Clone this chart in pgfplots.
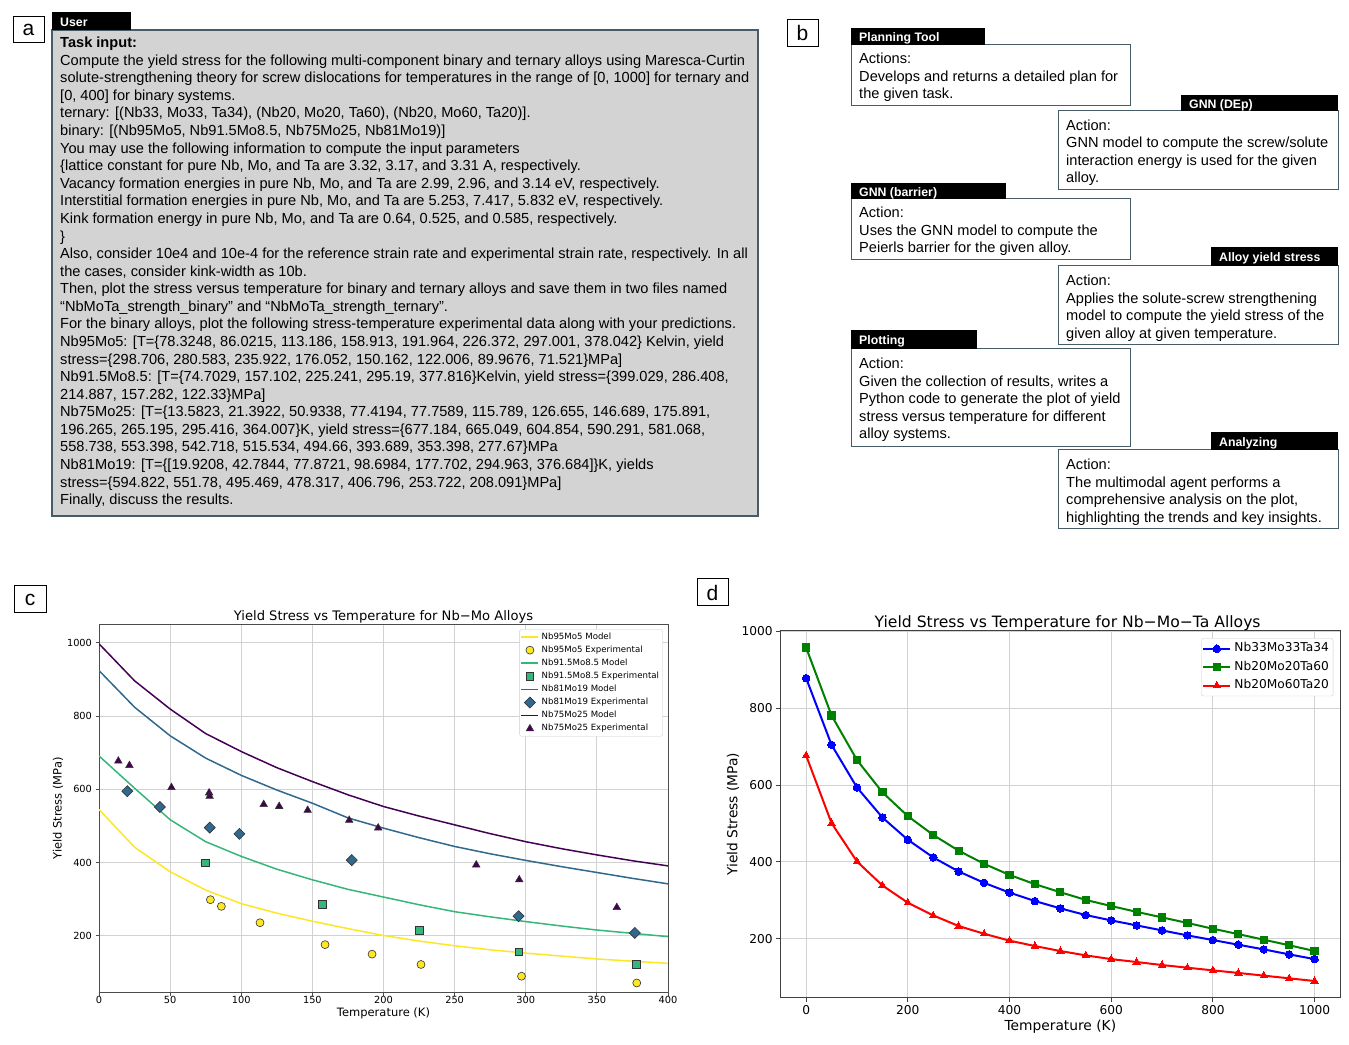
\documentclass[border=0pt]{standalone}
\usepackage{fontspec}
\setmainfont{Liberation Sans}
\newfontfamily\dejavu{DejaVu Sans}
\usepackage{pgfplots}
\pgfplotsset{compat=1.18}
\definecolor{vy}{HTML}{FDE725}
\definecolor{vg}{HTML}{35B779}
\definecolor{vb}{HTML}{31688E}
\definecolor{vp}{HTML}{440154}
\definecolor{boxedge}{RGB}{72,92,104}
\definecolor{boxfill}{RGB}{211,211,211}
\definecolor{mgreen}{HTML}{008000}
\newcommand\tx[3]{\node[anchor=mid west,inner sep=0pt,yshift=-3pt,font=\fontsize{14.6}{17}\selectfont] at (#1,#2) {#3};}
\newcommand\tabbox[5]{\fill[black] (#1,#2) rectangle (#3,#4);
\node[anchor=mid west,inner sep=0pt,yshift=-2.5pt,text=white,font=\bfseries\fontsize{12.3}{14}\selectfont] at ({#1+8},{(#2+#4)/2}) {#5};}
\newcommand\plabel[5]{\draw[line width=1pt,fill=white] (#1,#2) rectangle (#3,#4);
\node[inner sep=0pt,font=\fontsize{21}{24}\selectfont] at ({(#1+#3)/2},{(#2+#4)/2}) {#5};}
\begin{document}
\begin{tikzpicture}[x=1pt,y=1pt]
\path[use as bounding box] (0,0) rectangle (1349,1044);
\begin{scope}[yshift=1044pt,y=-1pt]
% ---------- panel a
\plabel{13}{17}{44}{43}{a}
\draw[boxedge,fill=boxfill,line width=1.2pt] (52,30) rectangle (758,516);
\tabbox{52}{12}{131}{30}{User}
\tx{60}{42}{\bfseries Task input:}
\tx{60}{59.6}{Compute the yield stress for the following multi-component binary and ternary alloys using Maresca-Curtin}
\tx{60}{77.2}{solute-strengthening theory for screw dislocations for temperatures in the range of [0, 1000] for ternary and}
\tx{60}{94.7}{[0, 400] for binary systems.}
\tx{60}{112.3}{ternary: [(Nb33, Mo33, Ta34), (Nb20, Mo20, Ta60), (Nb20, Mo60, Ta20)].}
\tx{60}{129.9}{binary: [(Nb95Mo5, Nb91.5Mo8.5, Nb75Mo25, Nb81Mo19)]}
\tx{60}{147.5}{You may use the following information to compute the input parameters}
\tx{60}{165.1}{\{lattice constant for pure Nb, Mo, and Ta are 3.32, 3.17, and 3.31 A, respectively.}
\tx{60}{182.6}{Vacancy formation energies in pure Nb, Mo, and Ta are 2.99, 2.96, and 3.14 eV, respectively.}
\tx{60}{200.2}{Interstitial formation energies in pure Nb, Mo, and Ta are 5.253, 7.417, 5.832 eV, respectively.}
\tx{60}{217.8}{Kink formation energy in pure Nb, Mo, and Ta are 0.64, 0.525, and 0.585, respectively.}
\tx{60}{235.4}{\}}
\tx{60}{253.0}{Also, consider 10e4 and 10e-4 for the reference strain rate and experimental strain rate, respectively. In all}
\tx{60}{270.5}{the cases, consider kink-width as 10b.}
\tx{60}{288.1}{Then, plot the stress versus temperature for binary and ternary alloys and save them in two files named}
\tx{60}{305.7}{“NbMoTa\_strength\_binary” and “NbMoTa\_strength\_ternary”.}
\tx{60}{323.3}{For the binary alloys, plot the following stress-temperature experimental data along with your predictions.}
\tx{60}{340.9}{Nb95Mo5: [T=\{78.3248, 86.0215, 113.186, 158.913, 191.964, 226.372, 297.001, 378.042\} Kelvin, yield}
\tx{60}{358.4}{stress=\{298.706, 280.583, 235.922, 176.052, 150.162, 122.006, 89.9676, 71.521\}MPa]}
\tx{60}{376.0}{Nb91.5Mo8.5: [T=\{74.7029, 157.102, 225.241, 295.19, 377.816\}Kelvin, yield stress=\{399.029, 286.408,}
\tx{60}{393.6}{214.887, 157.282, 122.33\}MPa]}
\tx{60}{411.2}{Nb75Mo25: [T=\{13.5823, 21.3922, 50.9338, 77.4194, 77.7589, 115.789, 126.655, 146.689, 175.891,}
\tx{60}{428.8}{196.265, 265.195, 295.416, 364.007\}K, yield stress=\{677.184, 665.049, 604.854, 590.291, 581.068,}
\tx{60}{446.3}{558.738, 553.398, 542.718, 515.534, 494.66, 393.689, 353.398, 277.67\}MPa}
\tx{60}{463.9}{Nb81Mo19: [T=\{[19.9208, 42.7844, 77.8721, 98.6984, 177.702, 294.963, 376.684]\}K, yields}
\tx{60}{481.5}{stress=\{594.822, 551.78, 495.469, 478.317, 406.796, 253.722, 208.091\}MPa]}
\tx{60}{499.1}{Finally, discuss the results.}
% ---------- panel b
\plabel{787}{20}{818}{47}{b}
\draw[boxedge,fill=white,line width=1pt] (851,45) rectangle (1130,106);
\tabbox{851}{28}{985}{45}{Planning Tool}
\tx{859}{58}{Actions:}
\tx{859}{75.5}{Develops and returns a detailed plan for}
\tx{859}{93}{the given task.}
\draw[boxedge,fill=white,line width=1pt] (1058,111) rectangle (1338,190);
\tabbox{1181}{95}{1338}{111}{GNN (DEp)}
\tx{1066}{124.5}{Action:}
\tx{1066}{142}{GNN model to compute the screw/solute}
\tx{1066}{159.5}{interaction energy is used for the given}
\tx{1066}{177}{alloy.}
\draw[boxedge,fill=white,line width=1pt] (851,199) rectangle (1130,260);
\tabbox{851}{183}{1006}{199}{GNN (barrier)}
\tx{859}{212}{Action:}
\tx{859}{229.5}{Uses the GNN model to compute the}
\tx{859}{247}{Peierls barrier for the given alloy.}
\draw[boxedge,fill=white,line width=1pt] (1058,266) rectangle (1338,345);
\tabbox{1211}{247}{1338}{266}{Alloy yield stress}
\tx{1066}{280}{Action:}
\tx{1066}{297.5}{Applies the solute-screw strengthening}
\tx{1066}{315}{model to compute the yield stress of the}
\tx{1066}{332.5}{given alloy at given temperature.}
\draw[boxedge,fill=white,line width=1pt] (851,349) rectangle (1130,447);
\tabbox{851}{330}{977}{349}{Plotting}
\tx{859}{363}{Action:}
\tx{859}{380.5}{Given the collection of results, writes a}
\tx{859}{398}{Python code to generate the plot of yield}
\tx{859}{415.5}{stress versus temperature for different}
\tx{859}{433}{alloy systems.}
\draw[boxedge,fill=white,line width=1pt] (1058,450) rectangle (1338,529);
\tabbox{1211}{432}{1338}{450}{Analyzing}
\tx{1066}{464}{Action:}
\tx{1066}{481.5}{The multimodal agent performs a}
\tx{1066}{499}{comprehensive analysis on the plot,}
\tx{1066}{516.5}{highlighting the trends and key insights.}
% ---------- labels c d
\plabel{14}{586}{46}{613}{c}
\plabel{697}{579}{728}{606}{d}
\end{scope}
% ---------- panel c
\begin{axis}[
  at={(99pt,420pt)}, anchor=north west, scale only axis,
  width=569pt, height=368.7pt,
  xmin=0, xmax=400, ymin=45, ymax=1051,
  xtick={0,50,...,400}, ytick={200,400,600,800,1000},
  grid=major, major grid style={gray!35,line width=0.8pt},
  axis line style={black!70,line width=0.8pt},
  tick style={black!70,line width=0.8pt},
  tick align=outside, tick pos=left, major tick length=3.5pt,
  ticklabel style={font=\dejavu\fontsize{9.8}{11}\selectfont},
  xticklabel style={yshift=3.5pt},
  /pgf/number format/assume math mode=true,
  /pgf/number format/1000 sep={},
  every axis title shift=0pt,
  title={Yield Stress vs Temperature for Nb−Mo Alloys},
  title style={font=\dejavu\fontsize{13.1}{15}\selectfont, at={(axis description cs:0.5,1.019)}, anchor=center, inner sep=0pt},
  xlabel={Temperature (K)},
  xlabel style={font=\dejavu\fontsize{11.5}{13}\selectfont, at={(axis description cs:0.5,-0.057)}, anchor=center, inner sep=0pt},
  ylabel={Yield Stress (MPa)},
  ylabel style={font=\dejavu\fontsize{11.5}{13}\selectfont, at={(axis description cs:-0.072,0.5)}, anchor=center, inner sep=0pt},
  legend cell align=left,
  legend style={at={(axis description cs:1,1)}, anchor=north east, xshift=-5.3pt, yshift=-5.3pt,
    draw=gray!40, rounded corners=2pt, fill=white, inner sep=1pt,
    font=\dejavu\fontsize{8.6}{10}\selectfont,
    nodes={inner sep=2.4pt, text height=6.4pt, text depth=1.9pt}},
]
\addplot[vy, line width=1.5pt] coordinates {(0,545)(25,442)(50,375)(75,325)(100,288)(125,262)(150,240)(175,220)(200,201)(225,186)(250,173)(275,162)(300,153)(325,145)(350,137)(375,131)(400,125)};
\addlegendentry{Nb95Mo5 Model}
\addplot[only marks, mark=*, mark size=4pt, mark options={fill=vy, draw=black!80, line width=0.6pt}] coordinates {(78.3248,298.706)(86.0215,280.583)(113.186,235.922)(158.913,176.052)(191.964,150.162)(226.372,122.006)(297.001,89.9676)(378.042,71.521)};
\addlegendentry{Nb95Mo5 Experimental}
\addplot[vg, line width=1.5pt] coordinates {(0,691)(25,603)(50,517)(75,457)(100,417)(125,382)(150,353)(175,327)(200,306)(225,285)(250,266)(275,252)(300,239)(325,227)(350,216)(375,207)(400,198)};
\addlegendentry{Nb91.5Mo8.5 Model}
\addplot[only marks, mark=square*, mark size=3.7pt, mark options={fill=vg, draw=black!80, line width=0.6pt}] coordinates {(74.7029,399.029)(157.102,286.408)(225.241,214.887)(295.19,157.282)(377.816,122.33)};
\addlegendentry{Nb91.5Mo8.5 Experimental}
\addplot[vb, line width=1.5pt] coordinates {(0,924)(25,824)(50,746)(75,685)(100,638)(125,598)(150,562)(175,522)(200,494)(225,468)(250,444)(275,424)(300,406)(325,389)(350,373)(375,357)(400,342)};
\addlegendentry{Nb81Mo19 Model}
\addplot[only marks, mark=square*, mark size=3.9pt, mark options={rotate=45, fill=vb, draw=black!80, line width=0.6pt}] coordinates {(19.9208,594.822)(42.7844,551.78)(77.8721,495.469)(98.6984,478.317)(177.702,406.796)(294.963,253.722)(376.684,208.091)};
\addlegendentry{Nb81Mo19 Experimental}
\addplot[vp, line width=1.5pt] coordinates {(0,997)(25,896)(50,819)(75,752)(100,703)(125,659)(150,621)(175,585)(200,553)(225,527)(250,503)(275,479)(300,457)(325,438)(350,421)(375,405)(400,391)};
\addlegendentry{Nb75Mo25 Model}
\addplot[only marks, mark=triangle*, mark size=4.3pt, mark options={fill=vp, draw=black!80, line width=0.6pt}] coordinates {(13.5823,677.184)(21.3922,665.049)(50.9338,604.854)(77.4194,590.291)(77.7589,581.068)(115.789,558.738)(126.655,553.398)(146.689,542.718)(175.891,515.534)(196.265,494.66)(265.195,393.689)(295.416,353.398)(364.007,277.67)};
\addlegendentry{Nb75Mo25 Experimental}
\end{axis}
% ---------- panel d
\begin{axis}[
  at={(780.7pt,413pt)}, anchor=north west, scale only axis,
  width=559.3pt, height=366.7pt,
  xmin=-50, xmax=1050, ymin=46.6, ymax=1000.7,
  xtick={0,200,...,1000}, ytick={200,400,600,800,1000},
  grid=major, major grid style={gray!35,line width=1pt},
  axis line style={black!75,line width=1pt},
  tick style={black!75,line width=1pt},
  tick align=outside, tick pos=left, major tick length=4.5pt,
  ticklabel style={font=\dejavu\fontsize{12.2}{14}\selectfont},
  /pgf/number format/assume math mode=true,
  /pgf/number format/1000 sep={},
  every axis title shift=0pt,
  title={Yield Stress vs Temperature for Nb−Mo−Ta Alloys},
  title style={font=\dejavu\fontsize{15.6}{18}\selectfont, at={(axis description cs:0.513,1.0218)}, anchor=center, inner sep=0pt},
  xlabel={Temperature (K)},
  xlabel style={font=\dejavu\fontsize{13.8}{16}\selectfont, at={(axis description cs:0.5,-0.080)}, anchor=center, inner sep=0pt},
  ylabel={Yield Stress (MPa)},
  ylabel style={font=\dejavu\fontsize{13.8}{16}\selectfont, at={(axis description cs:-0.0853,0.5)}, anchor=center, inner sep=0pt},
  legend cell align=left,
  legend style={at={(axis description cs:1,1)}, anchor=north east, xshift=-6.7pt, yshift=-7.3pt,
    draw=gray!40, rounded corners=2pt, fill=white, inner sep=1pt,
    font=\dejavu\fontsize{12.2}{14}\selectfont,
    nodes={inner sep=3.3pt, text height=9.2pt, text depth=2.7pt}},
  legend image code/.code={\draw[mark repeat=2,mark phase=2] plot coordinates {(0pt,0pt)(13.3pt,0pt)(26.7pt,0pt)};},
]
\addplot[blue, line width=2pt, mark=*, mark size=3.8pt, mark options={solid, fill=blue, draw=blue, line width=0pt}] coordinates {(0,878)(50,704.5)(100,593.5)(150,515.5)(200,457.5)(250,411.5)(300,375)(350,345.5)(400,320)(450,298)(500,279)(550,261.6)(600,247.7)(650,234.7)(700,221.7)(750,208.7)(800,196.6)(850,184.4)(900,172.3)(950,159.3)(1000,147)};
\addlegendentry{Nb33Mo33Ta34}
\addplot[mgreen, line width=2pt, mark=square*, mark size=3.6pt, mark options={solid, fill=mgreen, draw=mgreen, line width=0pt}] coordinates {(0,957.5)(50,781)(100,665)(150,581)(200,519)(250,470)(300,429)(350,395)(400,366)(450,342)(500,321)(550,301)(600,285)(650,270)(700,255.5)(750,241)(800,226)(850,212)(900,197.5)(950,183)(1000,168)};
\addlegendentry{Nb20Mo20Ta60}
\addplot[red, line width=2pt, mark=triangle*, mark size=4.3pt, mark options={solid, fill=red, draw=red, line width=0pt}] coordinates {(0,676.7)(50,500.8)(100,401)(150,338.7)(200,293.7)(250,260.7)(300,233)(350,213)(400,195)(450,181)(500,168)(550,156.7)(600,147)(650,139.4)(700,131.6)(750,124.6)(800,117.7)(850,111)(900,104)(950,97)(1000,90)};
\addlegendentry{Nb20Mo60Ta20}
\end{axis}
\end{tikzpicture}
\end{document}
